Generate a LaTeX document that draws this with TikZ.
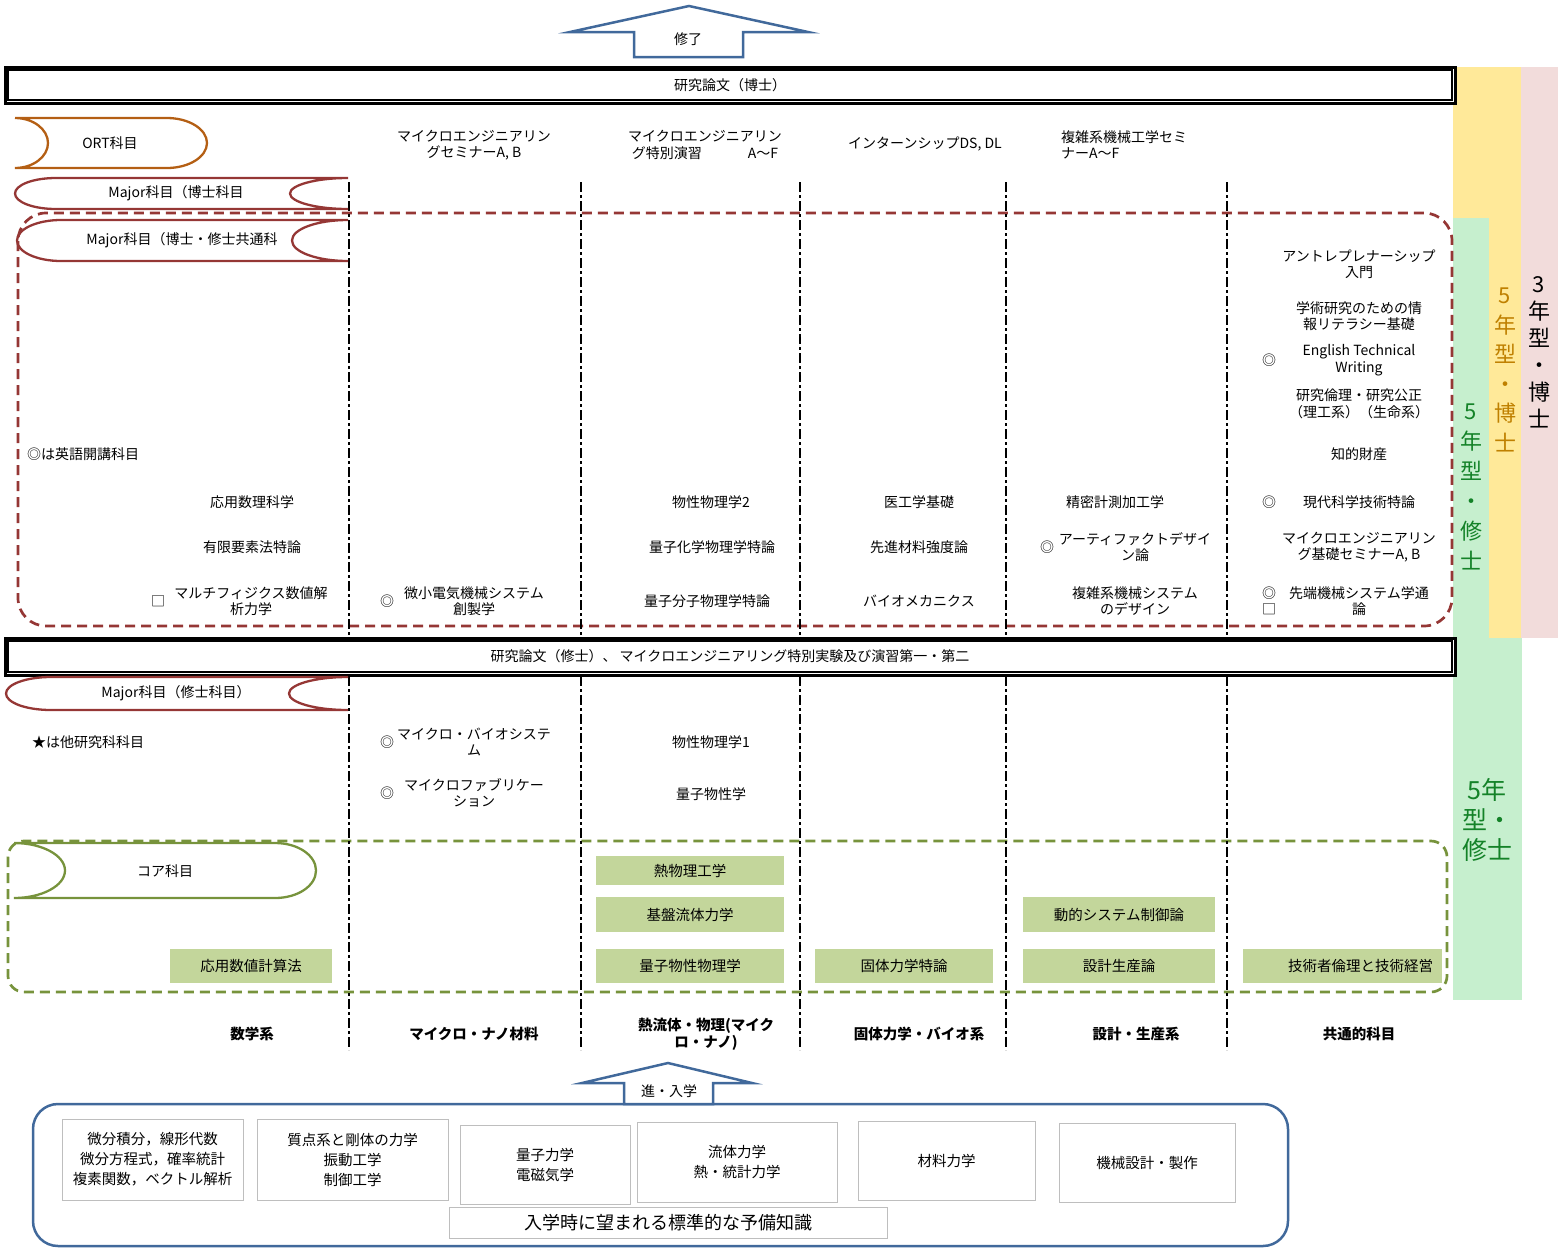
\documentclass[tikz,border=0pt]{standalone}
\usepackage{fontspec}
\setmainfont{Noto Sans CJK JP}
\usetikzlibrary{calc}

\definecolor{phdred}{RGB}{149,55,53}
\definecolor{ortbrown}{RGB}{180,95,20}
\definecolor{coregreen}{RGB}{119,147,60}
\definecolor{corefill}{RGB}{195,214,155}
\definecolor{entryblue}{RGB}{65,105,155}
\definecolor{bandpink}{RGB}{242,220,219}
\definecolor{bandyellow}{RGB}{255,233,153}
\definecolor{bandgreen}{RGB}{198,239,206}
\definecolor{goldtext}{RGB}{191,128,0}
\definecolor{greentext}{RGB}{20,130,40}
\definecolor{boxgray}{RGB}{190,190,190}

\begin{document}
\begin{tikzpicture}[x=1pt,y=-1pt,
    every node/.style={inner sep=0pt, align=center, font=\fontsize{14}{16.5}\selectfont},
    divider/.style={line width=2.3pt, dash pattern=on 10pt off 3pt on 3pt off 3pt},
    thesisbox/.style={draw, fill=white, line width=3pt},
    reddash/.style={draw=phdred, line width=2.7pt, dash pattern=on 10pt off 6pt, rounded corners=28pt},
    greendash/.style={draw=coregreen, line width=2.7pt, dash pattern=on 10pt off 6pt, rounded corners=16pt},
    tagline/.style={line width=2.3pt},
    corebox/.style={fill=corefill, font=\fontsize{14.5}{17}\selectfont},
    prebox/.style={draw=boxgray, line width=0.8pt, font=\fontsize{14.5}{20}\selectfont},
    bandlabel/.style={font=\fontsize{22}{27}\selectfont},
    grouplabel/.style={font=\bfseries\fontsize{14.5}{17}\selectfont},
    entryarrow/.style={draw=entryblue, line width=2.5pt, fill=white, line join=miter}]

\useasboundingbox (0,0) rectangle (1558,1248);

% side bands
\fill[bandpink] (1521,67) rectangle (1558,638);
\fill[bandyellow] (1453,67) rectangle (1521,638);
\fill[bandgreen] (1453,218) rectangle (1489,638);
\fill[bandgreen] (1453,638) rectangle (1522,1000);

\node[bandlabel] (phdthree) at (1539,352) {3\\年\\型\\・\\博\\士};
\node[bandlabel, text=goldtext, font=\fontsize{22}{29.5}\selectfont] (phdfive) at (1505,370) {5\\年\\型\\・\\博\\士};
\node[bandlabel, text=greentext, font=\fontsize{22}{30}\selectfont] (msfive) at (1471,487) {5\\年\\型\\・\\修\\士};
\node[text=greentext, font=\fontsize{25}{30}\selectfont] (msfivelow) at (1487,820) {5年\\型・\\修士};

% dashed groups
\draw[reddash] (18,213) rectangle (1452,626);
\draw[greendash] (8,841) rectangle (1447,992);

% column dividers
\foreach \x in {349,581,800,1006,1227}
    \draw[divider] (\x,182) -- (\x,1050);

% finish arrow
\draw[entryarrow] (689,6) -- (808,32) -- (743,32) -- (743,57) -- (634,57) -- (634,32) -- (570,32) -- cycle;
\node (done) at (688,39) {修了};

% thesis boxes
\node[thesisbox, minimum width=1450pt, minimum height=36pt] (phdthesis) at (730,85) {研究論文（博士）};
\draw[line width=1.2pt] ($(phdthesis.north west)+(4.5,4.5)$) rectangle ($(phdthesis.south east)+(-4.5,-4.5)$);
\node[thesisbox, minimum width=1450pt, minimum height=37pt] (msthesis) at (730,656.5) {研究論文（修士）、 マイクロエンジニアリング特別実験及び演習第一・第二};
\draw[line width=1.2pt] ($(msthesis.north west)+(4.5,4.5)$) rectangle ($(msthesis.south east)+(-4.5,-4.5)$);

% tags
\draw[tagline, ortbrown] (15,118) -- (167,118) .. controls (189,118) and (207,129.2) .. (207,143)
    .. controls (207,156.8) and (189,168) .. (167,168) -- (15,168)
    .. controls (33,168) and (48,156.8) .. (48,143) .. controls (48,129.2) and (33,118) .. (15,118);
\node (ort) at (110,143) {ORT科目};

\draw[tagline, phdred] (348,178) -- (56,178) .. controls (33,178) and (15,185) .. (15,193.5)
    .. controls (15,202) and (33,209) .. (56,209) -- (348,209)
    .. controls (316,209) and (290,202) .. (290,193.5) .. controls (290,185) and (316,178) .. (348,178);
\node (majorphd) at (176,193) {Major科目（博士科目};

\draw[tagline, phdred] (348,220) -- (61,220) .. controls (37,220) and (17,229) .. (17,240.5)
    .. controls (17,252) and (37,261) .. (61,261) -- (348,261)
    .. controls (317,261) and (292,252) .. (292,240.5) .. controls (292,229) and (317,220) .. (348,220);
\node (majorboth) at (182,240) {Major科目（博士・修士共通科};

\draw[tagline, phdred] (348,677) -- (51,677) .. controls (26,677) and (6,684.4) .. (6,693.5)
    .. controls (6,702.6) and (26,710) .. (51,710) -- (348,710)
    .. controls (315,710) and (289,702.6) .. (289,693.5) .. controls (289,684.4) and (315,677) .. (348,677);
\node (majorms) at (176,693) {Major科目（修士科目）};

\draw[tagline, coregreen] (14,843) -- (275,843) .. controls (298,843) and (316,855.3) .. (316,870.5)
    .. controls (316,885.7) and (298,898) .. (275,898) -- (14,898)
    .. controls (42,898) and (65,885.7) .. (65,870.5) .. controls (65,855.3) and (42,843) .. (14,843);
\node (core) at (165,871) {コア科目};

% doctoral seminars
\node (semab) at (474,145) {マイクロエンジニアリン\\グセミナーA, B};
\node (specex) at (705,145) {マイクロエンジニアリン\\グ特別演習\hspace{3.3em}A～F};
\node (intern) at (925,144) {インターンシップDS, DL};
\node[anchor=west, align=left] (cplxsem) at (1061,145) {複雑系機械工学セミ\\ナーA～F};

% common courses
\node[anchor=west] (engnote) at (27,454) {◎は英語開講科目};
\node (apmath) at (252,502) {応用数理科学};
\node (fem) at (252,547) {有限要素法特論};
\node (sqa) at (158,601) {□};
\node (multiphys) at (251,601) {マルチフィジクス数値解\\析力学};
\node (dca) at (387,601) {◎};
\node (mems) at (474,601) {微小電気機械システム\\創製学};
\node (sspxtwo) at (711,502) {物性物理学2};
\node (qchem) at (712,547) {量子化学物理学特論};
\node (qmol) at (707,601) {量子分子物理学特論};
\node (medeng) at (919,502) {医工学基礎};
\node (advmat) at (919,547) {先進材料強度論};
\node (biomech) at (919,601) {バイオメカニクス};
\node (precision) at (1115,502) {精密計測加工学};
\node (dcb) at (1047,547) {◎};
\node (artifact) at (1135,547) {アーティファクトデザイ\\ン論};
\node (cplxdesign) at (1135,601) {複雑系機械システム\\のデザイン};
\node (entre) at (1359,264) {アントレプレナーシップ\\入門};
\node (infolit) at (1359,316) {学術研究のための情\\報リテラシー基礎};
\node (dcc) at (1269,360) {◎};
\node (etw) at (1359,360) {English Technical\\Writing};
\node (ethicsres) at (1359,404) {研究倫理・研究公正\\（理工系）（生命系）};
\node (ip) at (1359,454) {知的財産};
\node (dcd) at (1269,502) {◎};
\node (modern) at (1359,502) {現代科学技術特論};
\node (mesemab) at (1359,547) {マイクロエンジニアリン\\グ基礎セミナーA, B};
\node (dce) at (1269,593) {◎};
\node (sqb) at (1269,609) {□};
\node (advmech) at (1359,601) {先端機械システム学通\\論};

% master courses
\node[anchor=west] (othernote) at (32,742) {★は他研究科科目};
\node (dcf) at (387,742) {◎};
\node (microbio) at (474,742) {マイクロ・バイオシステ\\ム};
\node (dcg) at (387,793) {◎};
\node (microfab) at (474,793) {マイクロファブリケー\\ション};
\node (sspxone) at (711,742) {物性物理学1};
\node (qprop) at (711,794) {量子物性学};

% core courses
\node[corebox, minimum width=162pt, minimum height=34pt] (numcalc) at (251,966) {応用数値計算法};
\node[corebox, minimum width=188pt, minimum height=29pt] (thermo) at (690,870.5) {熱物理工学};
\node[corebox, minimum width=188pt, minimum height=35pt] (fluid) at (690,914.5) {基盤流体力学};
\node[corebox, minimum width=188pt, minimum height=34pt] (qsspx) at (690,966) {量子物性物理学};
\node[corebox, minimum width=178pt, minimum height=34pt] (solid) at (904,966) {固体力学特論};
\node[corebox, minimum width=192pt, minimum height=35pt] (dynsys) at (1119,914.5) {動的システム制御論};
\node[corebox, minimum width=192pt, minimum height=34pt] (designprod) at (1119,966) {設計生産論};
\node[corebox, minimum width=199pt, minimum height=34pt] (ethics) at (1342.5,966) {\hspace*{36pt}技術者倫理と技術経営};

% column headings
\node[grouplabel] (gmath) at (252,1034) {数学系};
\node[grouplabel] (gmicro) at (474,1034) {マイクロ・ナノ材料};
\node[grouplabel] (gthermo) at (706,1034) {熱流体・物理(マイク\\ロ・ナノ)};
\node[grouplabel] (gsolid) at (919,1034) {固体力学・バイオ系};
\node[grouplabel] (gdesign) at (1136,1034) {設計・生産系};
\node[grouplabel] (gcommon) at (1359,1034) {共通的科目};

% entry knowledge
\draw[draw=entryblue, line width=2.5pt, rounded corners=25pt] (33,1104) rectangle (1288,1246);
\draw[entryarrow] (668,1063) -- (752,1083) -- (713,1083) -- (713,1104) -- (624,1104) -- (624,1083) -- (582,1083) -- cycle;
\node (entry) at (669,1091) {進・入学};

\node[prebox, minimum width=181pt, minimum height=81pt] (premath) at (152.5,1159.5) {微分積分，線形代数\\微分方程式，確率統計\\複素関数，ベクトル解析};
\node[prebox, minimum width=191pt, minimum height=81pt] (premech) at (352.5,1159.5) {質点系と剛体の力学\\振動工学\\制御工学};
\node[prebox, minimum width=170pt, minimum height=79pt] (prequant) at (545,1164.5) {量子力学\\電磁気学};
\node[prebox, minimum width=200pt, minimum height=80pt] (prefluid) at (737,1162) {流体力学\\熱・統計力学};
\node[prebox, minimum width=177pt, minimum height=79pt] (prematl) at (946.5,1160.5) {材料力学};
\node[prebox, minimum width=176pt, minimum height=79pt] (predesign) at (1147,1162.5) {機械設計・製作};
\node[prebox, minimum width=438pt, minimum height=31pt, font=\fontsize{18}{20}\selectfont] (prenote) at (668,1222.5) {入学時に望まれる標準的な予備知識};

\end{tikzpicture}
\end{document}
